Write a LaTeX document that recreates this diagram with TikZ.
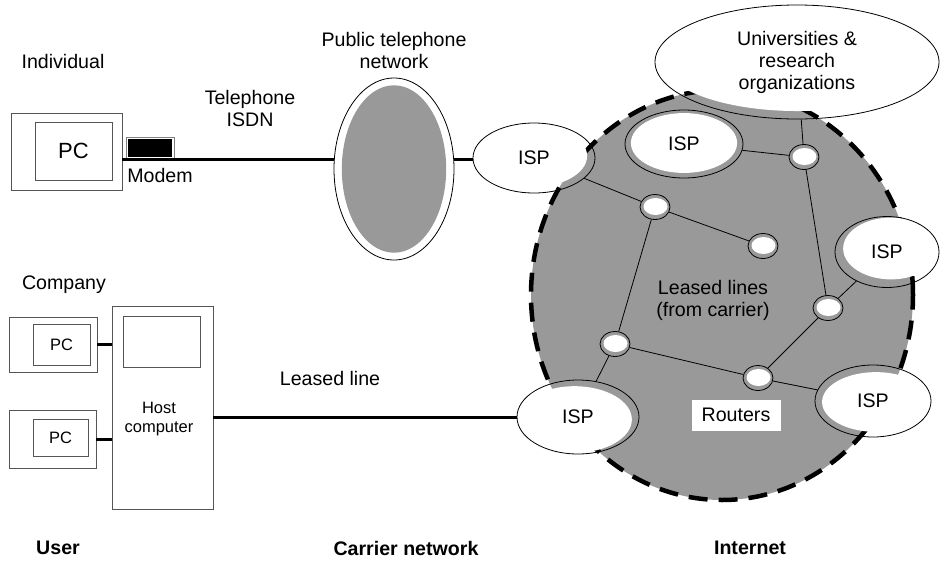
\documentclass[tikz,border=0pt]{standalone}
\usepackage{fontspec}
\setmainfont{Liberation Sans}
\usetikzlibrary{shapes.geometric,calc}

\definecolor{netgray}{HTML}{999999}
\definecolor{boxgray}{HTML}{555555}

\tikzset{
  box/.style={draw=boxgray, line width=0.8pt, inner sep=0pt},
  inset/.style n args={4}{ellipse, draw, line width=0.8pt, inner sep=0pt,
    path picture={\fill[#1] let \p1=(path picture bounding box.north east),
      \p2=(path picture bounding box.south west) in
      ($(path picture bounding box.center)+#4$)
      ellipse [x radius={#2*(\x1-\x2)/2}, y radius={#3*(\y1-\y2)/2}];}},
  router/.style={inset={white}{0.8}{0.68}{(0.5,-0.5)}, minimum width=30pt, minimum height=25pt},
  wire/.style={line width=3pt},
  link/.style={line width=0.8pt},
  small/.style={font=\fontsize{16.5}{18.5}\selectfont},
  caption/.style={font=\fontsize{19.6}{22}\selectfont\bfseries},
}

\begin{document}
\begin{tikzpicture}[x=1pt, y=-1pt, font=\fontsize{19.6}{22}\selectfont]
\useasboundingbox (0,0) rectangle (940,563);

% the internet
\node[ellipse, fill=netgray, draw, line width=4.5pt, dash pattern=on 19pt off 11pt,
  minimum width=382pt, minimum height=410pt] (inet) at (722,295) {};

% individual user
\node at (63,61) {Individual};
\node[box, minimum width=111pt, minimum height=77pt] (pcA) at (66.5,151.5) {};
\node[box, minimum width=77pt, minimum height=58pt, font=\fontsize{22}{24}\selectfont] at (73.5,151) {PC};
\node[draw=gray, fill=white, line width=0.8pt, minimum width=48pt, minimum height=22pt, inner sep=0pt,
  path picture={\fill[black] ([shift={(2,-2)}]path picture bounding box.south west)
    rectangle ([shift={(-2,2)}]path picture bounding box.north east);}] (modem) at (150,148) {};
\node at (160,175) {Modem};

% company
\node at (64,285) {Company};
\node[box, minimum width=88pt, minimum height=55pt] (pcB) at (53,344.5) {};
\node[box, small, minimum width=57pt, minimum height=41pt] at (61.5,344.5) {PC};
\node[box, minimum width=87pt, minimum height=58pt] (pcC) at (52.5,439) {};
\node[box, small, minimum width=55pt, minimum height=37pt] at (60.5,437.5) {PC};
\node[box, minimum width=101pt, minimum height=203pt] (host) at (162.5,407.5) {};
\node[box, minimum width=77pt, minimum height=51pt] at (161.5,341.5) {};
\node[small, align=center] at (159,419) {Host\\computer};

% carrier
\node[align=center] at (394,50) {Public telephone\\network};
\node[align=center] at (250,108) {Telephone\\ISDN};
\node[inset={netgray}{0.87}{0.92}{(0,0)}, minimum width=120pt, minimum height=182pt] (ptn) at (394,169) {};
\node at (330,378) {Leased line};

% providers
\node[inset={white}{0.92}{0.9}{(-3,-2)}, minimum width=122pt, minimum height=70pt] (ispA) at (534,158) {ISP};
\node[inset={white}{0.9}{0.88}{(0,-1)}, minimum width=118pt, minimum height=68pt] (ispB) at (684,144) {ISP};
\node[inset={white}{0.92}{0.87}{(4,-3.5)}, minimum width=104pt, minimum height=71pt] (ispC) at (887,252) {ISP};
\node[inset={white}{0.93}{0.83}{(3,1)}, minimum width=116pt, minimum height=72pt] (ispD) at (873,401) {ISP};
\node[inset={white}{0.94}{0.9}{(-3.5,2.5)}, minimum width=122pt, minimum height=74pt] (ispE) at (578,417) {ISP};
\node[inset={white}{0.97}{0.93}{(0,-4)}, minimum width=284pt, minimum height=114pt, align=center] (uni) at (797,62)
  {Universities \&\\research\\organizations};

% routers
\node[router] (r1) at (655,207) {};
\node[router] (r2) at (763,246) {};
\node[router] (r3) at (804,157) {};
\node[router] (r4) at (828,308) {};
\node[router] (r5) at (615,344) {};
\node[router] (r6) at (758,378) {};

\draw[link] (ispA) -- (r1) (r1) -- (r2) (r1) -- (r5) (ispB) -- (r3) (uni) -- (r3)
  (r3) -- (r4) (r4) -- (ispC) (r4) -- (r6) (r5) -- (r6) (r6) -- (ispD) (r5) -- (ispE);

\node[align=center] at (713,300) {Leased lines\\(from carrier)};
\node[fill=white, minimum width=89pt, minimum height=31pt, inner sep=0pt] at (736,415) {Routers};

% access lines
\draw[wire] (pcA.east |- modem.south) -- (modem.south -| ptn.west);
\draw[wire] (modem.south -| ptn.east) -- (modem.south -| ispA.west);
\draw[wire] (pcB) -- (pcB -| host.west);
\draw[wire] (pcC) -- (pcC -| host.west);
\draw[wire] (host.east |- ispE.west) -- (ispE.west);

% captions
\node[caption] at (58,548) {User};
\node[caption] at (406,548) {Carrier network};
\node[caption] at (750,548) {Internet};
\end{tikzpicture}
\end{document}
